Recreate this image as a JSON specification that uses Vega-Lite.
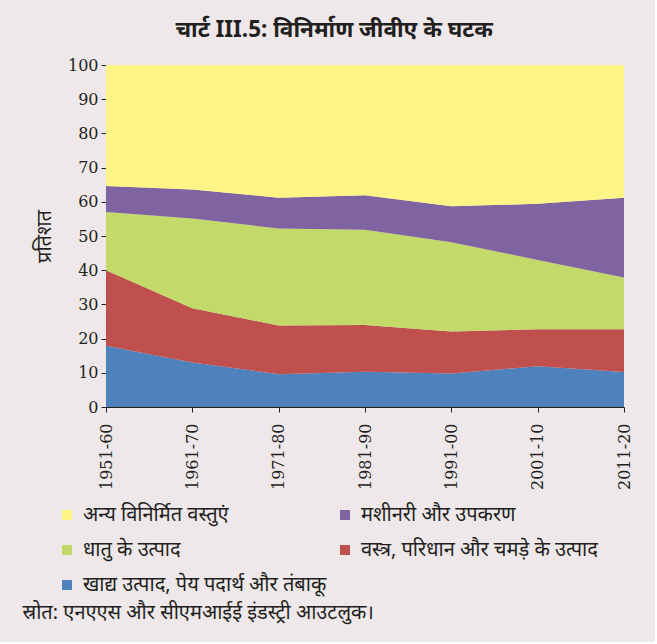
{
  "$schema": "https://vega.github.io/schema/vega-lite/v6.json",
  "background": "#EEE8EA",
  "padding": {"left": 22, "top": 18, "right": 23, "bottom": 18},
  "title": {
    "text": "चार्ट III.5: विनिर्माण जीवीए के घटक",
    "font": "Noto Sans",
    "fontSize": 22.5,
    "fontWeight": "bold",
    "color": "#231F20",
    "anchor": "middle",
    "offset": 16,
    "dx": 7
  },
  "config": {
    "view": {"stroke": null},
    "axis": {
      "domainColor": "#231F20",
      "tickColor": "#231F20",
      "labelColor": "#231F20",
      "titleColor": "#231F20",
      "labelFont": "DejaVu Serif",
      "labelFontSize": 16,
      "grid": false,
      "tickSize": 5
    },
    "legend": {
      "labelFont": "Noto Sans",
      "labelFontSize": 20,
      "labelColor": "#231F20",
      "padding": 0
    }
  },
  "vconcat": [
    {
      "width": 518,
      "height": 342,
      "title": {
        "text": "स्रोत: एनएएस और सीएमआईई इंडस्ट्री आउटलुक।",
        "orient": "bottom",
        "anchor": "start",
        "frame": "bounds",
        "font": "Noto Sans",
        "fontSize": 20,
        "fontWeight": "normal",
        "color": "#231F20",
        "offset": 114,
        "dx": -12
      },
      "data": {
        "values": [
          {"period": "1951-60", "series": "खाद्य उत्पाद, पेय पदार्थ और तंबाकू", "value": 17.9},
          {"period": "1951-60", "series": "वस्त्र, परिधान और चमड़े के उत्पाद", "value": 22.1},
          {"period": "1951-60", "series": "धातु के उत्पाद", "value": 17.0},
          {"period": "1951-60", "series": "मशीनरी और उपकरण", "value": 7.6},
          {"period": "1951-60", "series": "अन्य विनिर्मित वस्तुएं", "value": 35.4},
          {"period": "1961-70", "series": "खाद्य उत्पाद, पेय पदार्थ और तंबाकू", "value": 13.0},
          {"period": "1961-70", "series": "वस्त्र, परिधान और चमड़े के उत्पाद", "value": 15.9},
          {"period": "1961-70", "series": "धातु के उत्पाद", "value": 26.2},
          {"period": "1961-70", "series": "मशीनरी और उपकरण", "value": 8.5},
          {"period": "1961-70", "series": "अन्य विनिर्मित वस्तुएं", "value": 36.4},
          {"period": "1971-80", "series": "खाद्य उत्पाद, पेय पदार्थ और तंबाकू", "value": 9.6},
          {"period": "1971-80", "series": "वस्त्र, परिधान और चमड़े के उत्पाद", "value": 14.2},
          {"period": "1971-80", "series": "धातु के उत्पाद", "value": 28.4},
          {"period": "1971-80", "series": "मशीनरी और उपकरण", "value": 9.0},
          {"period": "1971-80", "series": "अन्य विनिर्मित वस्तुएं", "value": 38.8},
          {"period": "1981-90", "series": "खाद्य उत्पाद, पेय पदार्थ और तंबाकू", "value": 10.3},
          {"period": "1981-90", "series": "वस्त्र, परिधान और चमड़े के उत्पाद", "value": 13.7},
          {"period": "1981-90", "series": "धातु के उत्पाद", "value": 27.8},
          {"period": "1981-90", "series": "मशीनरी और उपकरण", "value": 10.1},
          {"period": "1981-90", "series": "अन्य विनिर्मित वस्तुएं", "value": 38.1},
          {"period": "1991-00", "series": "खाद्य उत्पाद, पेय पदार्थ और तंबाकू", "value": 9.8},
          {"period": "1991-00", "series": "वस्त्र, परिधान और चमड़े के उत्पाद", "value": 12.3},
          {"period": "1991-00", "series": "धातु के उत्पाद", "value": 26.1},
          {"period": "1991-00", "series": "मशीनरी और उपकरण", "value": 10.5},
          {"period": "1991-00", "series": "अन्य विनिर्मित वस्तुएं", "value": 41.3},
          {"period": "2001-10", "series": "खाद्य उत्पाद, पेय पदार्थ और तंबाकू", "value": 11.9},
          {"period": "2001-10", "series": "वस्त्र, परिधान और चमड़े के उत्पाद", "value": 10.8},
          {"period": "2001-10", "series": "धातु के उत्पाद", "value": 20.3},
          {"period": "2001-10", "series": "मशीनरी और उपकरण", "value": 16.4},
          {"period": "2001-10", "series": "अन्य विनिर्मित वस्तुएं", "value": 40.6},
          {"period": "2011-20", "series": "खाद्य उत्पाद, पेय पदार्थ और तंबाकू", "value": 10.2},
          {"period": "2011-20", "series": "वस्त्र, परिधान और चमड़े के उत्पाद", "value": 12.5},
          {"period": "2011-20", "series": "धातु के उत्पाद", "value": 15.2},
          {"period": "2011-20", "series": "मशीनरी और उपकरण", "value": 23.3},
          {"period": "2011-20", "series": "अन्य विनिर्मित वस्तुएं", "value": 38.8}
        ]
      },
      "transform": [
        {"calculate": "indexof(['खाद्य उत्पाद, पेय पदार्थ और तंबाकू', 'वस्त्र, परिधान और चमड़े के उत्पाद', 'धातु के उत्पाद', 'मशीनरी और उपकरण', 'अन्य विनिर्मित वस्तुएं'], datum.series)", "as": "stackRank"}
      ],
      "mark": {"type": "area", "opacity": 1},
      "encoding": {
        "x": {
          "field": "period",
          "type": "ordinal",
          "scale": {"type": "point", "padding": 0},
          "axis": {"title": null, "labelAngle": -90, "labelPadding": 11}
        },
        "y": {
          "field": "value",
          "type": "quantitative",
          "stack": "zero",
          "scale": {"domain": [0, 100]},
          "axis": {
            "title": "प्रतिशत",
            "titleFont": "Noto Sans",
            "titleFontSize": 20,
            "titleFontWeight": "normal",
            "titlePadding": 13,
            "values": [0, 10, 20, 30, 40, 50, 60, 70, 80, 90, 100],
            "labelPadding": 3
          }
        },
        "color": {
          "field": "series",
          "type": "nominal",
          "scale": {
            "domain": ["अन्य विनिर्मित वस्तुएं", "धातु के उत्पाद", "खाद्य उत्पाद, पेय पदार्थ और तंबाकू", "मशीनरी और उपकरण", "वस्त्र, परिधान और चमड़े के उत्पाद"],
            "range": ["#FFF587", "#C3D969", "#4F81BD", "#8064A2", "#C0504D"]
          },
          "legend": {
            "title": null,
            "orient": "none",
            "legendX": -49,
            "legendY": 440,
            "columns": 2,
            "symbolType": "square",
            "symbolSize": 100,
            "symbolStrokeWidth": 0,
            "labelOffset": 6,
            "labelLimit": 500,
            "rowPadding": 15,
            "columnPadding": 8
          }
        },
        "order": {"field": "stackRank", "type": "quantitative", "sort": "ascending"}
      }
    }
  ]
}
